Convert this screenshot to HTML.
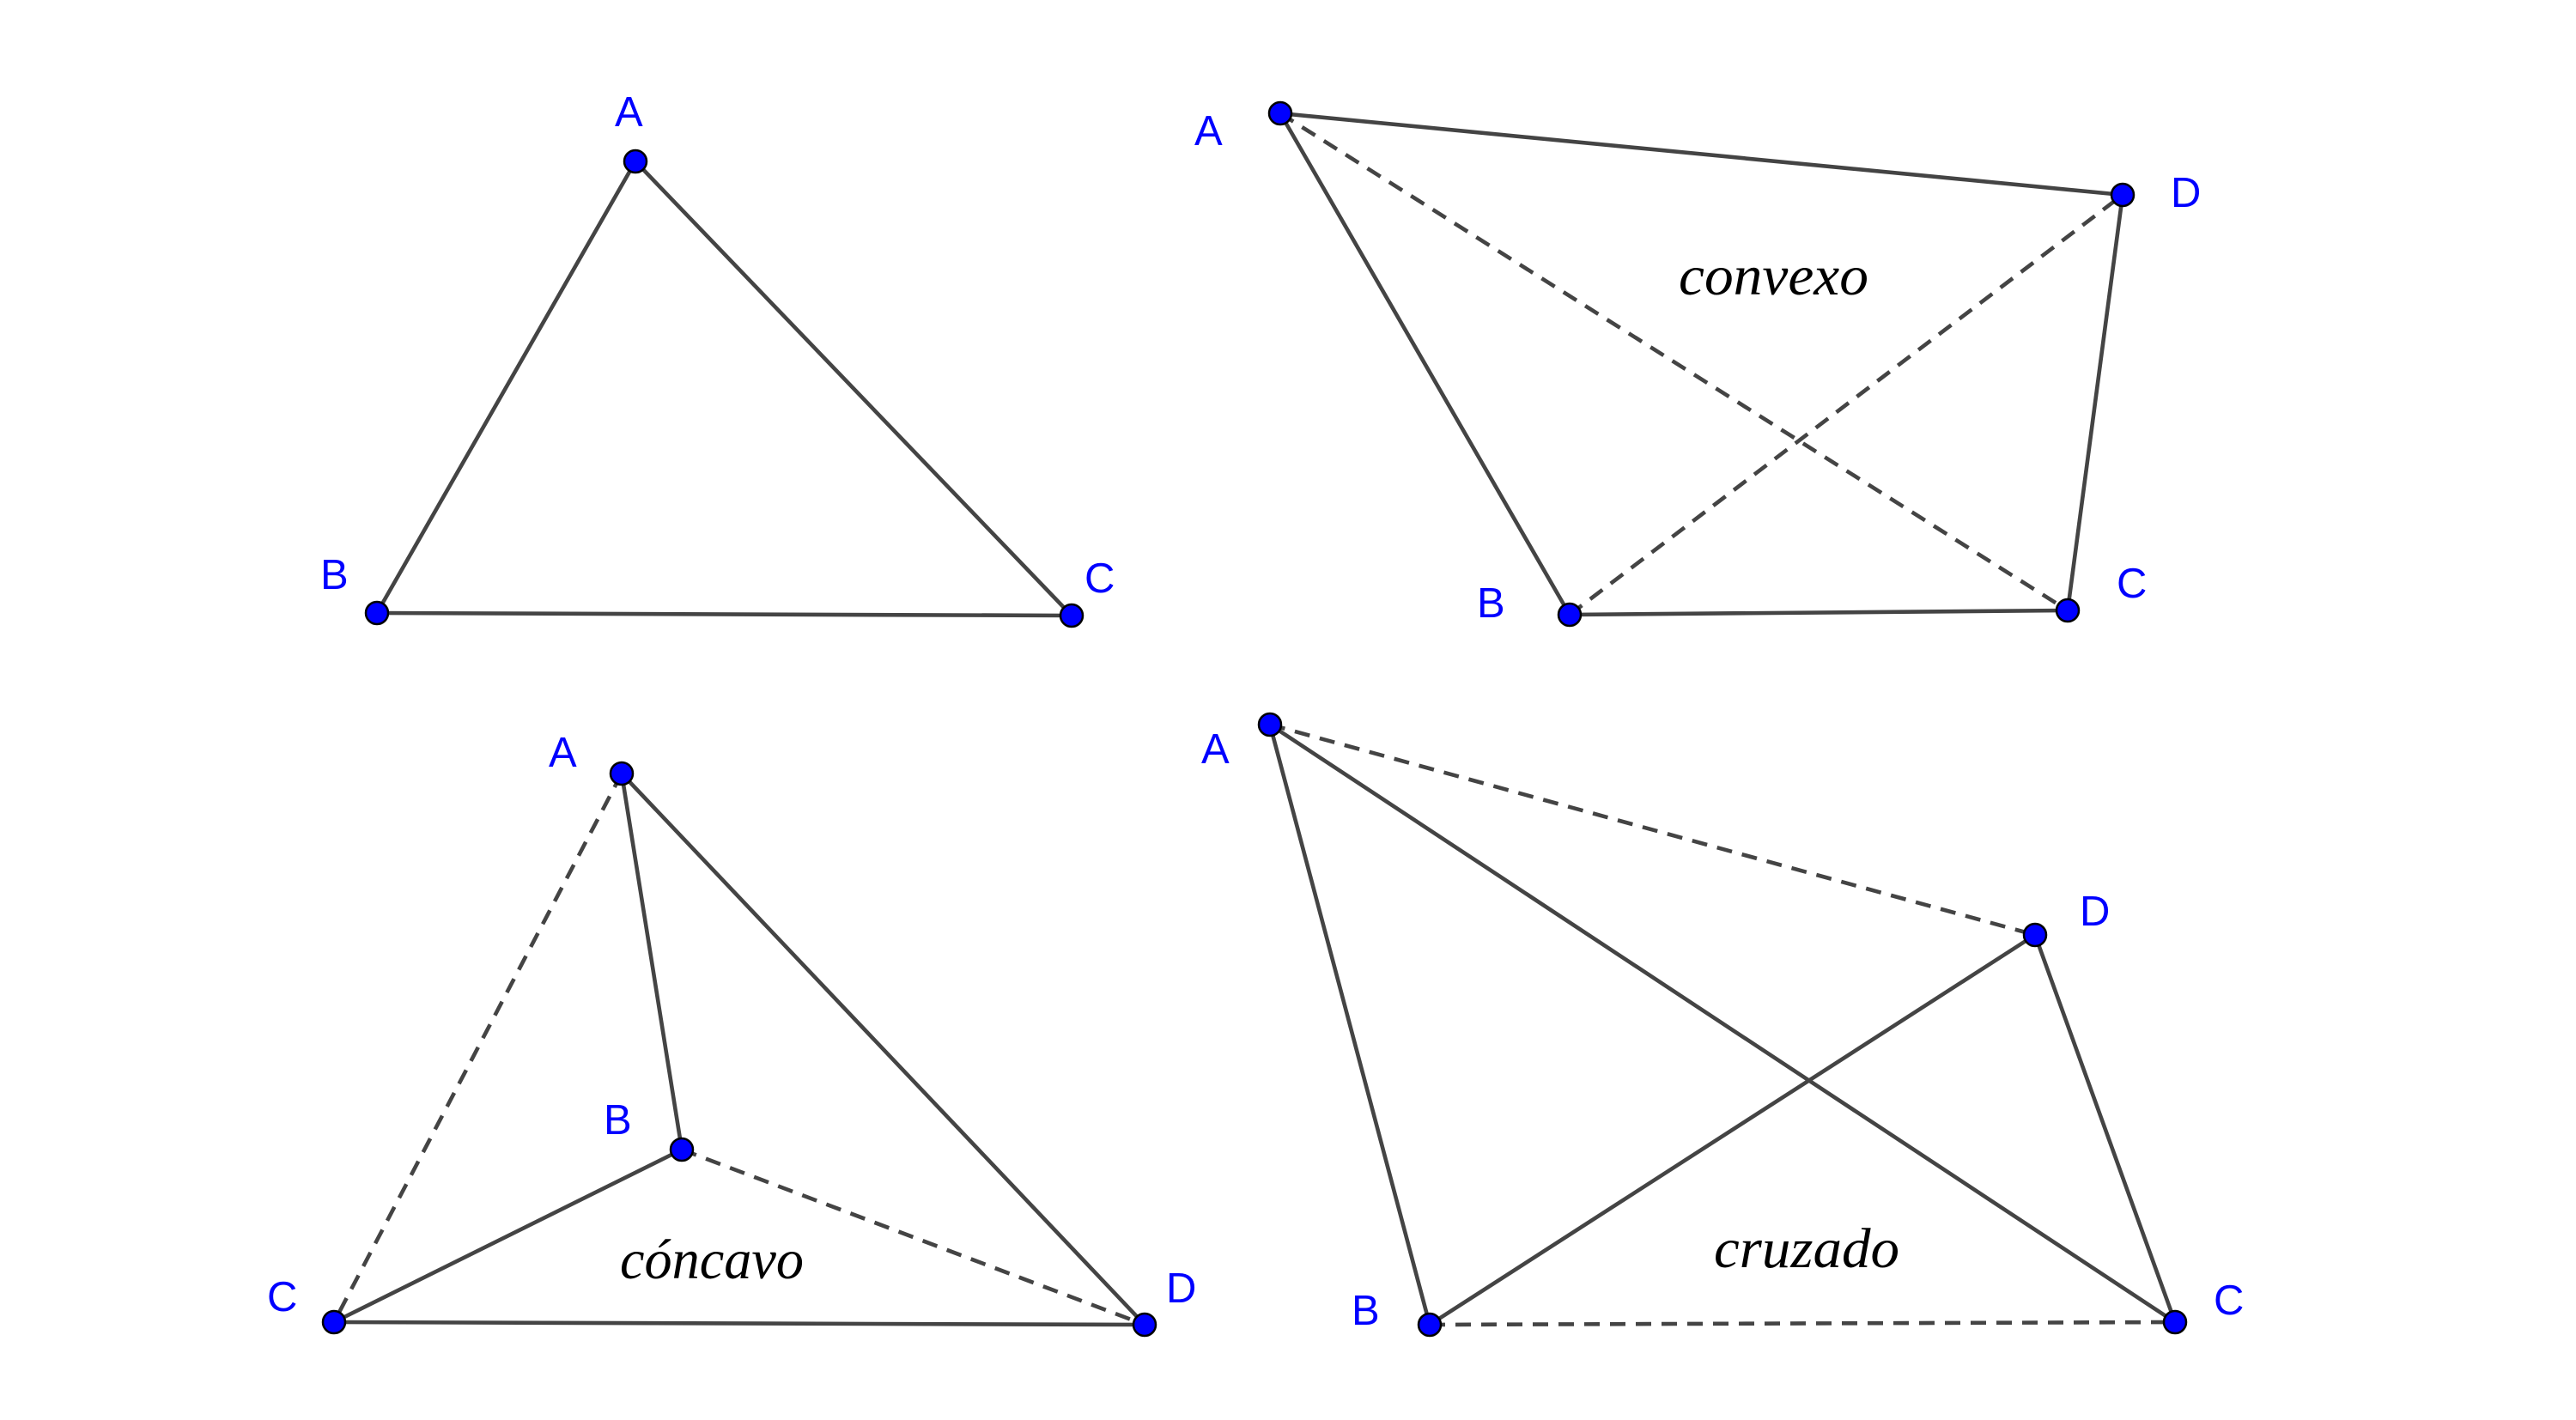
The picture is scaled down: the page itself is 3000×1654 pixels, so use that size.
<!DOCTYPE html>
<html><head><meta charset="utf-8"><style>html,body{margin:0;padding:0;background:#fff}svg{display:block}</style></head>
<body>
<svg width="3000" height="1654" viewBox="0 0 3000 1654" xmlns="http://www.w3.org/2000/svg">
<g stroke="#444" stroke-width="4.6" fill="none" stroke-linecap="butt">
<line x1="740" y1="188" x2="439" y2="714"/>
<line x1="740" y1="188" x2="1248" y2="717"/>
<line x1="439" y1="714" x2="1248" y2="717"/>
<line x1="1491" y1="132" x2="2472" y2="227"/>
<line x1="1491" y1="132" x2="1828" y2="716"/>
<line x1="1828" y1="716" x2="2408" y2="711"/>
<line x1="2408" y1="711" x2="2472" y2="227"/>
<g stroke-dasharray="18,12"><line x1="1491" y1="132" x2="2408" y2="711"/><line x1="1828" y1="716" x2="2472" y2="227"/></g>
<line x1="724" y1="901" x2="794" y2="1339"/>
<line x1="724" y1="901" x2="1333" y2="1543"/>
<line x1="389" y1="1540" x2="794" y2="1339"/>
<line x1="389" y1="1540" x2="1333" y2="1543"/>
<g stroke-dasharray="18,12"><line x1="724" y1="901" x2="389" y2="1540"/><line x1="794" y1="1339" x2="1333" y2="1543"/></g>
<line x1="1479" y1="844" x2="1665" y2="1543"/>
<line x1="1479" y1="844" x2="2533" y2="1540"/>
<line x1="1665" y1="1543" x2="2370" y2="1089"/>
<line x1="2370" y1="1089" x2="2533" y2="1540"/>
<g stroke-dasharray="18,12"><line x1="1479" y1="844" x2="2370" y2="1089"/><line x1="1665" y1="1543" x2="2533" y2="1540"/></g>
</g>
<g fill="#0000ff" stroke="#000" stroke-width="2.5">
<circle cx="740" cy="188" r="13"/><circle cx="439" cy="714" r="13"/><circle cx="1248" cy="717" r="13"/>
<circle cx="1491" cy="132" r="13"/><circle cx="2472" cy="227" r="13"/><circle cx="1828" cy="716" r="13"/><circle cx="2408" cy="711" r="13"/>
<circle cx="724" cy="901" r="13"/><circle cx="794" cy="1339" r="13"/><circle cx="389" cy="1540" r="13"/><circle cx="1333" cy="1543" r="13"/>
<circle cx="1479" cy="844" r="13"/><circle cx="2370" cy="1089" r="13"/><circle cx="1665" cy="1543" r="13"/><circle cx="2533" cy="1540" r="13"/>
</g>
<g fill="#0000ff" font-family="Liberation Sans, sans-serif" font-size="49">
<text x="716" y="147">A</text><text x="373" y="686">B</text><text x="1263" y="690">C</text>
<text x="1391" y="169">A</text><text x="2528" y="241">D</text><text x="1720" y="719">B</text><text x="2465" y="696">C</text>
<text x="639" y="893">A</text><text x="703" y="1321">B</text><text x="311" y="1527">C</text><text x="1358" y="1517">D</text>
<text x="1399" y="889">A</text><text x="2422" y="1078">D</text><text x="1574" y="1543">B</text><text x="2578" y="1531">C</text>
</g>
<g fill="#000" font-family="Liberation Serif, serif" font-style="italic" font-size="66">
<text x="1955" y="343" textLength="221" lengthAdjust="spacingAndGlyphs">convexo</text>
<text x="722" y="1489" textLength="214" lengthAdjust="spacingAndGlyphs">cóncavo</text>
<text x="1996" y="1476" textLength="216" lengthAdjust="spacingAndGlyphs">cruzado</text>
</g>
</svg>
</body></html>
